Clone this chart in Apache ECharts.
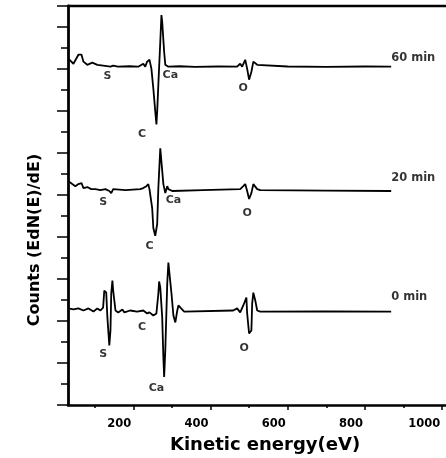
<!DOCTYPE html>
<html>
<head>
<meta charset="utf-8">
<script src="https://cdn.jsdelivr.net/npm/echarts@6/dist/echarts.min.js"></script>
<style>
html,body{margin:0;padding:0;background:#fff;}
#chart{width:446px;height:458px;}
</style>
</head>
<body>
<div id="chart"></div>
<script>
// Energy (eV), offset dN(E)/dE in arbitrary units (axis units)
var trace60 = [[32,16.49],[45,16.25],[50,16.25],[58,16.68],[66,16.68],[71,16.35],[76,16.44],[81,16.20],[94,16.30],[107,16.20],[122,16.16],[141,16.11],[146,16.02],[148,16.16],[160,16.11],[190,16.13],[213,16.11],[218,16.20],[226,16.25],[231,16.11],[236,16.35],[242,16.44],[247,16.02],[252,15.07],[257,13.98],[260,13.36],[262,13.98],[265,15.26],[270,17.29],[273,18.57],[275,18.24],[280,16.82],[283,16.20],[288,16.25],[291,16.11],[320,16.13],[360,16.10],[420,16.12],[469,16.11],[472,16.11],[477,16.25],[482,16.11],[490,16.44],[495,16.02],[500,15.49],[506,15.87],[511,16.35],[513,16.44],[521,16.20],[526,16.11],[600,16.12],[700,16.10],[800,16.12],[868,16.11]];
var trace20 = [[32,10.66],[42,10.52],[50,10.42],[58,10.52],[66,10.57],[71,10.33],[81,10.38],[91,10.28],[102,10.28],[115,10.23],[128,10.28],[138,10.19],[143,10.09],[148,10.28],[180,10.23],[218,10.28],[226,10.33],[234,10.42],[239,10.52],[242,10.28],[249,9.38],[252,8.43],[257,8.06],[262,8.62],[265,10.33],[270,12.22],[275,12.18],[278,10.52],[283,10.09],[288,10.42],[291,10.28],[301,10.19],[380,10.23],[477,10.28],[485,10.42],[490,10.52],[495,10.19],[500,9.81],[506,10.09],[511,10.52],[516,10.52],[521,10.28],[529,10.23],[700,10.21],[868,10.19]];
var trace0 = [[32,4.60],[45,4.55],[58,4.60],[71,4.50],[84,4.60],[97,4.45],[107,4.60],[115,4.50],[122,4.64],[125,5.45],[130,5.35],[133,4.17],[138,2.84],[141,3.55],[143,5.31],[146,5.92],[148,5.45],[154,4.50],[161,4.41],[172,4.55],[177,4.41],[192,4.50],[210,4.45],[226,4.50],[236,4.36],[242,4.41],[252,4.26],[260,4.36],[265,5.31],[267,5.88],[270,5.59],[275,4.17],[278,2.27],[280,1.33],[283,2.61],[288,5.78],[291,6.78],[293,6.40],[299,5.31],[304,4.26],[309,3.93],[314,4.50],[317,4.74],[324,4.60],[332,4.45],[459,4.50],[469,4.60],[477,4.41],[485,4.74],[493,5.12],[495,4.36],[500,3.41],[506,3.55],[508,4.83],[511,5.35],[516,4.98],[521,4.50],[529,4.45],[700,4.46],[868,4.45]];
var peakLabels = [[133,15.68,'S'],[296,15.73,'Ca'],[223,12.89,'C'],[485,15.07,'O'],
                  [122,9.67,'S'],[304,9.76,'Ca'],[242,7.58,'C'],[495,9.14,'O'],
                  [122,2.42,'S'],[223,3.70,'C'],[260,0.81,'Ca'],[487,2.70,'O']];
var timeLabels = [[868,16.54,'60 min'],[868,10.80,'20 min'],[868,5.16,'0 min']];
var majorTicks = [200,400,600,800,1000];
var minorTicks = [100,300,500,700,900];
var xTitle = 'Kinetic energy(eV)';
var yTitle = 'Counts (EdN(E)/dE)';

var FONT = 'DejaVu Sans';
var INK = '#000';
var chart = echarts.init(document.getElementById('chart'));
var xmin = 31, xmax = 1010;
chart.setOption({
  animation: false,
  backgroundColor: '#fff',
  grid: {left: 68, right: 0, top: 6, bottom: 53},
  xAxis: [
    {type: 'value', min: xmin, max: xmax, position: 'bottom',
     axisLine: {lineStyle: {color: INK, width: 2.6}},
     axisTick: {show: true, customValues: majorTicks, length: 5, lineStyle: {color: INK, width: 1.5}},
     axisLabel: {customValues: majorTicks, align: 'right', padding: [0, 2, 0, 0], margin: 13,
                 formatter: function (v) { return String(v); },
                 color: INK, fontFamily: FONT, fontWeight: 'bold', fontSize: 11.5},
     splitLine: {show: false}},
    {type: 'value', min: xmin, max: xmax, position: 'bottom',
     axisLine: {show: false},
     axisTick: {show: true, customValues: minorTicks, length: 3, lineStyle: {color: INK, width: 1.5}},
     axisLabel: {show: false}, splitLine: {show: false}},
    {type: 'value', min: xmin, max: xmax, position: 'top',
     axisLine: {lineStyle: {color: INK, width: 2.4}},
     axisTick: {show: false}, axisLabel: {show: false}, splitLine: {show: false}}
  ],
  yAxis: {type: 'value', min: 0, max: 19, interval: 2,
    axisLine: {show: true, lineStyle: {color: INK, width: 2.8}},
    axisTick: {show: true, length: 11, lineStyle: {color: INK, width: 1.5}},
    minorTick: {show: true, splitNumber: 2, length: 7, lineStyle: {color: INK, width: 1.5}},
    axisLabel: {show: false}, splitLine: {show: false}},
  graphic: [
    {type: 'text', left: 170, top: 436, style: {text: xTitle, font: 'bold 18px "DejaVu Sans"', fill: INK}},
    {type: 'text', x: 35, y: 240, rotation: Math.PI / 2,
     style: {text: yTitle, font: 'bold 16px "DejaVu Sans"', fill: INK, align: 'center', verticalAlign: 'middle'}}
  ],
  series: [
    {type: 'line', data: trace60, showSymbol: false, lineStyle: {color: INK, width: 1.8}},
    {type: 'line', data: trace20, showSymbol: false, lineStyle: {color: INK, width: 1.8}},
    {type: 'line', data: trace0, showSymbol: false, lineStyle: {color: INK, width: 1.8}},
    {type: 'scatter', data: peakLabels, symbolSize: 0,
     label: {show: true, position: 'inside', formatter: function (p) { return p.value[2]; },
             color: INK, fontFamily: FONT, fontWeight: 'bold', fontSize: 11}},
    {type: 'scatter', data: timeLabels, symbolSize: 0,
     label: {show: true, position: 'inside', align: 'left', formatter: function (p) { return p.value[2]; },
             color: INK, fontFamily: FONT, fontWeight: 'bold', fontSize: 11.5}}
  ]
});
</script>
</body>
</html>
